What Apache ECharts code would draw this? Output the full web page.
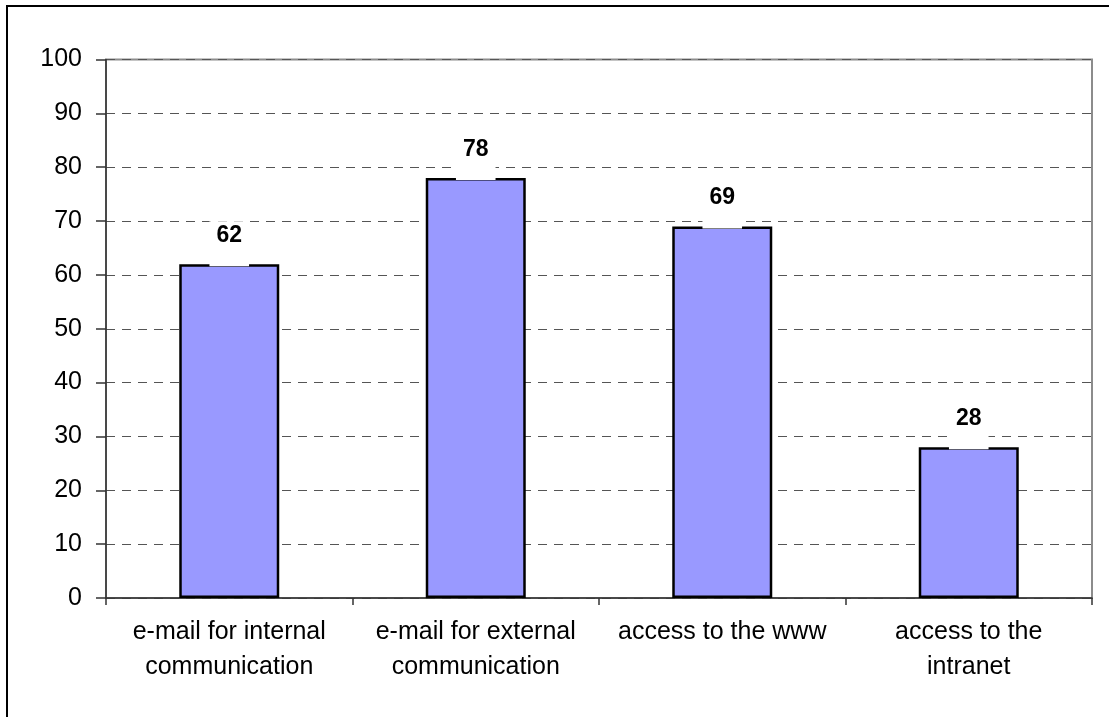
<!DOCTYPE html>
<html>
<head>
<meta charset="utf-8">
<script src="https://cdn.jsdelivr.net/npm/echarts@6/dist/echarts.min.js"></script>
<style>
  html, body { margin: 0; padding: 0; background: #fff; }
  #chart { width: 1109px; height: 717px; }
</style>
</head>
<body>
<div id="chart"></div>
<script>
// Usage of e-mail and web access (percent)
const categories = [
  'e-mail for internal\ncommunication',
  'e-mail for external\ncommunication',
  'access to the www',
  'access to the\nintranet'
];
const values = [62, 78, 69, 28];
const yMin = 0;
const yMax = 100;
const yStep = 10;

const FONT = '"Liberation Sans", Arial, sans-serif';

const chart = echarts.init(document.getElementById('chart'), null, { renderer: 'canvas' });

chart.setOption({
  animation: false,
  backgroundColor: '#fff',
  grid: {
    left: 106, top: 59.5, right: 17, bottom: 119,
    show: true,
    borderColor: '#8c8c8c',
    borderWidth: 2,
    backgroundColor: 'transparent'
  },
  graphic: [{
    type: 'rect',
    shape: { x: 7, y: 6, width: 1120, height: 730 },
    style: { fill: 'none', stroke: '#000', lineWidth: 2 },
    silent: true,
    z: 100
  }],
  xAxis: {
    type: 'category',
    data: categories,
    boundaryGap: true,
    axisLine: { show: true, lineStyle: { color: '#333', width: 1.5 } },
    axisTick: { show: true, alignWithLabel: false, length: 7, lineStyle: { color: '#333', width: 1.5 } },
    axisLabel: {
      color: '#000',
      fontFamily: FONT,
      fontSize: 25,
      lineHeight: 35,
      margin: 17,
      interval: 0
    },
    splitLine: { show: false }
  },
  yAxis: {
    type: 'value',
    min: yMin,
    max: yMax,
    interval: yStep,
    axisLine: { show: true, lineStyle: { color: '#333', width: 1.5 } },
    axisTick: { show: true, inside: false, length: 10, lineStyle: { color: '#333', width: 1.5 } },
    axisLabel: {
      color: '#000',
      fontFamily: FONT,
      fontSize: 25,
      margin: 24
    },
    splitLine: {
      show: true,
      lineStyle: { color: '#555', width: 1, type: [9, 7] }
    }
  },
  series: [{
    type: 'bar',
    data: values,
    barWidth: 100,
    itemStyle: {
      color: '#9999ff',
      borderColor: '#000',
      borderWidth: 2.5
    },
    label: {
      show: true,
      position: 'top',
      distance: -2,
      color: '#000',
      fontFamily: FONT,
      fontSize: 23,
      fontWeight: 'bold',
      lineHeight: 23,
      backgroundColor: '#fff',
      padding: [3, 7, 19, 7]
    },
    z: 3
  }]
});
</script>
</body>
</html>
